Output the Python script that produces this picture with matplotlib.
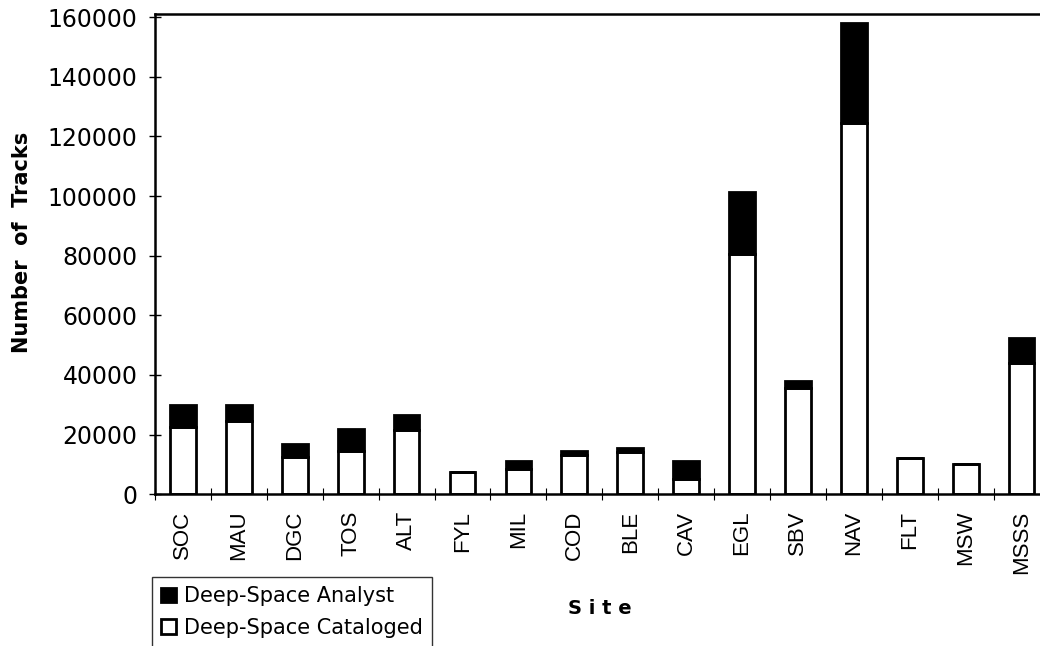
import matplotlib.pyplot as plt
import numpy as np

# Track counts per site
sites = ["SOC", "MAU", "DGC", "TOS", "ALT", "FYL", "MIL", "COD",
         "BLE", "CAV", "EGL", "SBV", "NAV", "FLT", "MSW", "MSSS"]
cataloged = [22500, 24500, 12500, 14500, 21500, 7500, 8500, 13000,
             14000, 5000, 80500, 35500, 124500, 12000, 10000, 44000]
analyst = [7500, 5500, 4500, 7500, 5000, 0, 2500, 1500,
           1500, 6000, 21000, 2500, 33500, 0, 0, 8500]
y_ticks = [0, 20000, 40000, 60000, 80000, 100000, 120000, 140000, 160000]


def plot_tracks():
    fig = plt.figure(figsize=(10.4, 6.46), dpi=100)
    ax = fig.add_axes([0.149, 0.235, 0.851, 0.743])

    x = np.arange(len(sites))
    bar_w = 0.46
    ax.bar(x, cataloged, width=bar_w, color="white", edgecolor="black",
           linewidth=2.0, label="Deep-Space Cataloged", zorder=2)
    ax.bar(x, analyst, width=bar_w, bottom=cataloged, color="black",
           edgecolor="black", linewidth=2.0, label="Deep-Space Analyst", zorder=2)

    ax.set_xlim(-0.5, 15.33)
    ax.set_ylim(0, 161000)

    # y axis
    ax.set_yticks(y_ticks)
    ax.set_yticklabels([str(v) for v in y_ticks], fontsize=17, family="DejaVu Sans")
    ax.tick_params(axis="y", direction="inout", length=9, width=1.0, pad=8)

    # x axis: labels at centres, tick marks on category boundaries
    ax.set_xticks(x)
    ax.set_xticklabels(sites, rotation=90, fontsize=16,
                       family=["Liberation Sans Narrow", "Liberation Sans"])
    ax.tick_params(axis="x", which="major", length=0, pad=12)
    ax.set_xticks(np.arange(-0.5, len(sites) - 0.5, 1.0), minor=True)
    ax.tick_params(axis="x", which="minor", direction="inout", length=8, width=0.8)

    for side in ["left", "bottom", "top"]:
        ax.spines[side].set_linewidth(1.8)
    ax.spines["right"].set_visible(False)

    fig.text(0.021, 0.625, "Number  of  Tracks", rotation=90, fontsize=15,
             fontweight="bold", ha="center", va="center", family="DejaVu Sans")
    fig.text(0.577, 0.058, "S i t e", fontsize=14, fontweight="bold",
             ha="center", va="center", family="DejaVu Sans")

    # legend sits below the axis, partly cut off by the figure edge
    handles, labels = ax.get_legend_handles_labels()
    leg = fig.legend(handles[::-1], labels[::-1], loc="upper left",
                     bbox_to_anchor=(0.146, 0.107), fontsize=15,
                     frameon=True, fancybox=False, edgecolor="black",
                     handlelength=0.7, handleheight=0.7, handletextpad=0.4,
                     borderpad=0.45, labelspacing=0.55, borderaxespad=0)
    leg.get_frame().set_linewidth(1.0)
    for t in leg.get_texts():
        t.set_family("DejaVu Sans")

    fig.savefig("out.png", dpi=100)
    plt.close(fig)


if __name__ == "__main__":
    plot_tracks()
